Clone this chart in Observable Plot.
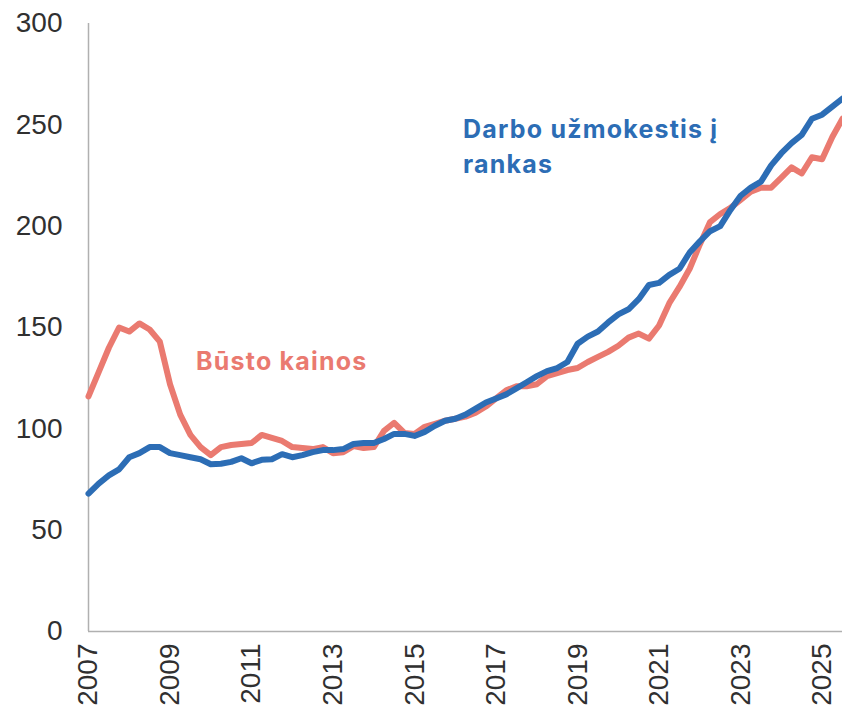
<!DOCTYPE html>
<html><head><meta charset="utf-8">
<script src="https://cdn.jsdelivr.net/npm/d3@7"></script>
<script src="https://cdn.jsdelivr.net/npm/@observablehq/plot@0.6"></script>
<style>body{margin:0;background:#fff}</style>
</head><body><div id="chart"></div>
<script>
// Quarterly index series, 2007 Q1 – 2025 Q3
const startYear = 2007;
const housingPrices = [116,128,140,150,148,152,149,143,122,107,97,91,87,91,92,92.5,93,97,95.5,94,91,90.5,90,91,88,88.5,91.5,90.5,91,99,103,98,97.5,101,102.5,104,105,106,108,111,115,119,121,121,122,126,127.5,129,130,133,135.5,138,141,145,147,144.5,151,162,170,179,191,202,206,209,213,217,219,219,224,229,226,234,233,244,253];
const netWages = [68,73,77,80,86,88,91,91,88,87,86,85,82.5,82.8,83.7,85.5,83,84.7,85,87.5,86,87,88.5,89.5,89.5,90,92.5,93,93,95,97.5,97.5,96.5,98.5,101.5,104,105,107,110,113,115,117,120,123,126,128.5,130,133,142,145.5,148,152.5,156.5,159,164,171,172,176,179,187,192.5,197.5,200,208,215,219,222,230,236,241,245,253,255,259,263];
const yTicks = [0,50,100,150,200,250,300];
const xTicks = [2007,2009,2011,2013,2015,2017,2019,2021,2023,2025];
const housingLabel = "Būsto kainos";
const wagesLabel = "Darbo užmokestis į\nrankas";

const toRows = (vals) => vals.map((v, i) => ({date: startYear + i / 4, value: v}));
const housingRows = toRows(housingPrices);
const wageRows = toRows(netWages);

const RED = "#EA7A70";
const BLUE = "#2C6DB5";

const chart = Plot.plot({
  width: 842,
  height: 714,
  marginLeft: 88,
  marginRight: 0,
  marginTop: 23,
  marginBottom: 83,
  style: {fontFamily: "'Liberation Sans', Arial, sans-serif", fontSize: "28px", color: "#303030", background: "#fff"},
  x: {domain: [2007, 2025.5], ticks: xTicks, tickFormat: d => String(d), tickRotate: -90, tickSize: 0, tickPadding: 12, label: null},
  y: {domain: [0, 300], ticks: yTicks, tickSize: 0, tickPadding: 26, label: null},
  marks: [
    Plot.ruleX([2007], {stroke: "#b0b0b0", strokeWidth: 1.5}),
    Plot.ruleY([0], {stroke: "#b0b0b0", strokeWidth: 1.5}),
    Plot.line(housingRows, {x: "date", y: "value", stroke: RED, strokeWidth: 6, strokeLinejoin: "round", strokeLinecap: "round"}),
    Plot.line(wageRows, {x: "date", y: "value", stroke: BLUE, strokeWidth: 6, strokeLinejoin: "round", strokeLinecap: "round"}),
    Plot.text([housingLabel], {x: 2009.64, y: 133, text: d => d, textAnchor: "start", fill: RED, fontSize: 25, fontWeight: 700, fontFamily: "Inter, sans-serif"}),
    Plot.text([wagesLabel], {x: 2016.19, y: 256, text: d => d, textAnchor: "start", lineAnchor: "top", lineHeight: 1.42, fill: BLUE, fontSize: 25, fontWeight: 700, fontFamily: "Inter, sans-serif"})
  ]
});
d3.select(chart).selectAll("g[aria-label='text'] text").style("letter-spacing", "1.2px");
document.getElementById("chart").appendChild(chart);
</script>
</body></html>
